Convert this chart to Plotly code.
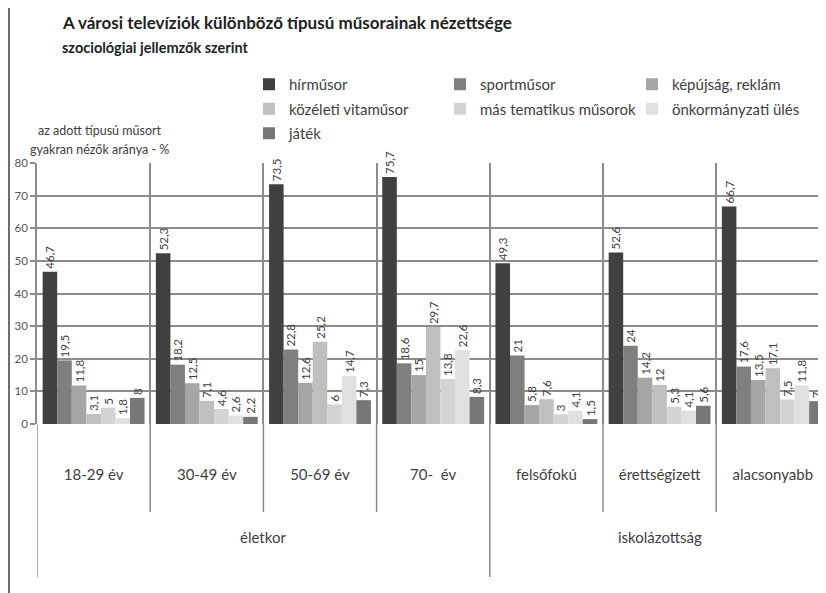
import plotly.graph_objects as go

categories = ["18-29 év", "30-49 év", "50-69 év", "70-  év", "felsőfokú", "érettségizett", "alacsonyabb"]
outer_groups = ["életkor", "iskolázottság"]
outer_centers = [1.5, 5.0]

series_names = ["hírműsor", "sportműsor", "képújság, reklám", "közéleti vitaműsor",
                "más tematikus műsorok", "önkormányzati ülés", "játék"]
hirmusor = [46.7, 52.3, 73.5, 75.7, 49.3, 52.6, 66.7]
sportmusor = [19.5, 18.2, 22.8, 18.6, 21, 24, 17.6]
kepujsag = [11.8, 12.5, 12.6, 15, 5.8, 14.2, 13.5]
kozeleti = [3.1, 7.1, 25.2, 29.7, 7.6, 12, 17.1]
mas_tematikus = [5, 4.6, 6, 13.8, 3, 5.3, 7.5]
onkormanyzati = [1.8, 2.6, 14.7, 22.6, 4.1, 4.1, 11.8]
jatek = [8, 2.2, 7.3, 8.3, 1.5, 5.6, 7]
series_values = [hirmusor, sportmusor, kepujsag, kozeleti, mas_tematikus, onkormanyzati, jatek]

colors = ["#404040", "#7f7f7f", "#a6a6a6", "#bfbfbf", "#d4d4d4", "#e0e0e0", "#777777"]
legend_ids = ["legend", "legend2", "legend3", "legend", "legend2", "legend3", "legend"]

FONT = "Lato, 'Open Sans', sans-serif"
TXT = "#404040"

fig = go.Figure()
for name, vals, col, lg in zip(series_names, series_values, colors, legend_ids):
    fig.add_trace(go.Bar(
        x=categories, y=vals, name=name, marker=dict(color=col, line=dict(width=0)),
        text=[f"{v:g}".replace(".", ",") for v in vals],
        textposition="outside", textangle=-90, constraintext="none", cliponaxis=False,
        textfont=dict(family=FONT, size=11.5, color=TXT),
        legend=lg, legendgroup=name,
    ))

# Coordinates below are given in reference-picture pixels; the page adds an 8px body margin.
H = 261.0
def py(p):
    return (424 - p) / H

W = 789.0
def px(p):
    return (p - 37) / W

legend_common = dict(orientation="v", yanchor="top", xanchor="left", font=dict(family=FONT, size=15, color=TXT),
                     bgcolor="rgba(0,0,0,0)", tracegroupgap=2, traceorder="grouped", itemwidth=30)

fig.update_layout(
    width=818, height=585,
    margin=dict(l=29, r=0, t=155, b=169, autoexpand=False),
    paper_bgcolor="white", plot_bgcolor="white",
    barmode="group", bargap=0.1, bargroupgap=0,
    font=dict(family=FONT, color=TXT),
    legend=dict(x=px(249), y=py(68), **legend_common),
    legend2=dict(x=px(440), y=py(68), **legend_common),
    legend3=dict(x=px(632), y=py(68), **legend_common),
    xaxis=dict(range=[-0.5, 6.47], tickson="boundaries", showgrid=True, gridcolor="#8c8c8c", gridwidth=1.5,
               ticks="", showline=False, zeroline=False, ticklabelstandoff=40, tickangle=0, automargin=False,
               tickfont=dict(family=FONT, size=15, color=TXT)),
    yaxis=dict(range=[0, 80], dtick=10, showgrid=True, gridcolor="#8c8c8c", gridwidth=1.5,
               ticks="outside", ticklen=5, tickcolor="#8c8c8c", tickwidth=1.5, automargin=False,
               showline=True, linecolor="#8c8c8c", linewidth=1.5, zeroline=False,
               tickfont=dict(family=FONT, size=11.5, color="#555555")),
    showlegend=True,
)

# titles
fig.add_annotation(text="<b>A városi televíziók különböző típusú műsorainak nézettsége</b>",
                   xref="paper", yref="paper", x=px(60), y=py(22), xanchor="left", yanchor="middle",
                   showarrow=False, font=dict(family=FONT, size=17, color="#222222"))
fig.add_annotation(text="<b>szociológiai jellemzők szerint</b>",
                   xref="paper", yref="paper", x=px(60), y=py(47), xanchor="left", yanchor="middle",
                   showarrow=False, font=dict(family=FONT, size=14.5, color="#222222"))
for line, (cx, cy) in zip(["az adott típusú műsort", "gyakran nézők aránya - %"], [(100, 130), (99, 149)]):
    fig.add_annotation(text=line, xref="paper", yref="paper", x=px(cx), y=py(cy), xanchor="center",
                       yanchor="middle", showarrow=False, font=dict(family=FONT, size=12.5, color=TXT))

# outer group labels
for lab, c in zip(outer_groups, outer_centers):
    fig.add_annotation(text=lab, xref="x", yref="paper", x=c, y=py(537), xanchor="center", yanchor="middle",
                       showarrow=False, font=dict(family=FONT, size=15, color=TXT))

# separators below axis
line_style = dict(color="#8c8c8c", width=1.5)
for b in [0.5, 1.5, 2.5, 4.5, 5.5]:
    fig.add_shape(type="line", xref="x", yref="paper", x0=b, x1=b, y0=0, y1=py(512), line=line_style)
for b in [-0.5, 3.5]:
    fig.add_shape(type="line", xref="x", yref="paper", x0=b, x1=b, y0=0, y1=py(577), line=line_style)

# outer frame line of the picture
fig.add_shape(type="line", xref="paper", yref="paper", x0=px(9), x1=px(9), y0=py(0), y1=py(593),
              line=dict(color="#6e6e6e", width=2))

fig.write_html("out.html")
